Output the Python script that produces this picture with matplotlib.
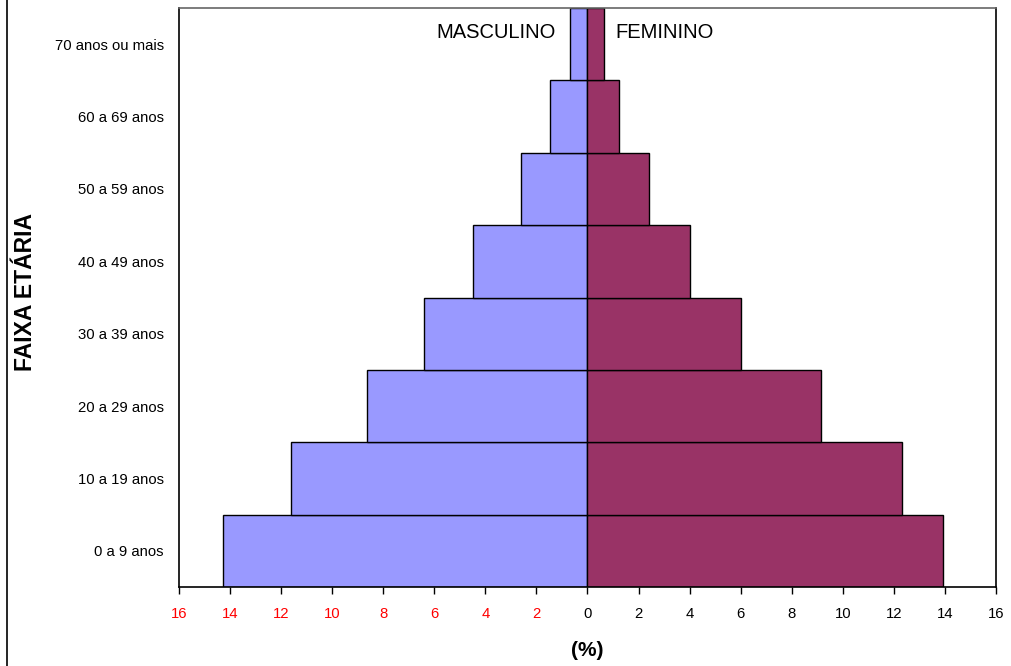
import matplotlib
matplotlib.use("Agg")
import matplotlib.pyplot as plt
import numpy as np

plt.rcParams['font.family'] = ['Liberation Sans', 'DejaVu Sans']

faixas = ["0 a 9 anos", "10 a 19 anos", "20 a 29 anos", "30 a 39 anos",
          "40 a 49 anos", "50 a 59 anos", "60 a 69 anos", "70 anos ou mais"]
masculino = [14.26, 11.62, 8.62, 6.42, 4.47, 2.61, 1.46, 0.68]
feminino = [13.92, 12.31, 9.14, 6.01, 4.02, 2.39, 1.23, 0.63]
xticks = list(range(-16, 17, 2))

fig = plt.figure(figsize=(10.12, 6.66), dpi=100)
ax = fig.add_axes([179 / 1012, 1 - 587 / 666, 817 / 1012, 579 / 666])

y = np.arange(len(faixas))
ax.barh(y, -np.array(masculino), height=1.0, color="#9999FF",
        edgecolor="black", linewidth=1.0, zorder=2)
ax.barh(y, feminino, height=1.0, color="#993366",
        edgecolor="black", linewidth=1.0, zorder=2)

ax.set_xlim(-16, 16)
ax.set_ylim(-0.5, len(faixas) - 0.5)

ax.set_xticks(xticks)
ax.set_xticklabels([str(abs(v)) for v in xticks])
for v, lbl in zip(xticks, ax.get_xticklabels()):
    lbl.set_color("red" if v < 0 else "black")
ax.tick_params(axis="x", direction="out", length=5, width=1, pad=9.5,
               labelsize=10.7)

ax.set_yticks(y)
ax.set_yticklabels(faixas)
ax.tick_params(axis="y", length=0, pad=11, labelsize=10.7)

for side in ["left", "right", "bottom"]:
    ax.spines[side].set_color("black")
    ax.spines[side].set_linewidth(1.2)
ax.spines["top"].set_color("#666666")
ax.spines["top"].set_linewidth(1.2)

ax.text(-1.25, 7.16, "MASCULINO", ha="right", va="center", fontsize=14.5)
ax.text(1.1, 7.16, "FEMININO", ha="left", va="center", fontsize=14.5)

fig.text(587 / 1012, 1 - 650 / 666, "(%)", ha="center", va="center",
         fontsize=15, fontweight="bold")
fig.text(26 / 1012, 1 - 292 / 666, "FAIXA ETÁRIA", ha="center", va="center",
         rotation=90, fontsize=16.5, fontweight="bold")

# moldura da área do gráfico (só o lado esquerdo aparece no recorte)
fig.add_artist(plt.Line2D([7 / 1012, 7 / 1012], [0, 1], color="black",
                          linewidth=1.2, transform=fig.transFigure))

fig.savefig("out.png", dpi=100)
